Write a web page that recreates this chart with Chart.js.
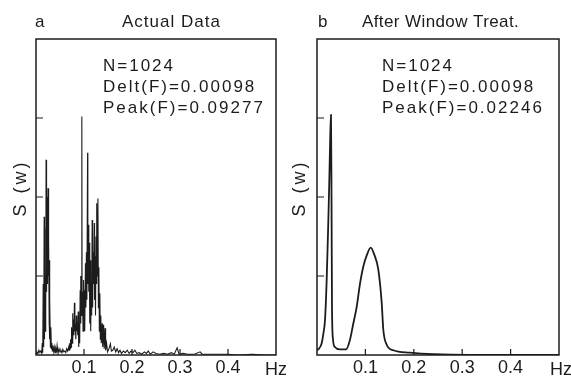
<!DOCTYPE html>
<html>
<head>
<meta charset="utf-8">
<script src="https://cdn.jsdelivr.net/npm/chart.js@4/dist/chart.umd.min.js"></script>
<style>
  html, body { margin: 0; padding: 0; background: #fff; }
  #wrap { position: relative; width: 571px; height: 379px; overflow: hidden; }
  .panel { position: absolute; top: 0; height: 379px; }
  #pa { left: 0; width: 286px; }
  #pb { left: 286px; width: 285px; }
</style>
</head>
<body>
<div id="wrap">
  <div class="panel" id="pa"><canvas id="chartA"></canvas></div>
  <div class="panel" id="pb"><canvas id="chartB"></canvas></div>
</div>
<script>
// [frequency Hz, S(w)]
const spectrumA = [
  [0.000,0.02],[0.002,0.04],[0.004,0.02],[0.006,0.06],[0.008,0.03],[0.010,0.05],[0.012,0.02],[0.013,0.15],
  [0.014,0.03],[0.015,0.9],[0.016,0.1],[0.017,1.75],[0.0175,0.2],[0.018,1.1],[0.019,0.3],[0.020,1.6],
  [0.0205,0.5],[0.021,2.47],[0.0215,0.8],[0.022,1.9],[0.0225,1.1],[0.023,2.0],[0.0235,1.2],[0.024,1.9],
  [0.0245,0.9],[0.025,2.11],[0.0255,1.2],[0.026,1.8],[0.0265,1.0],[0.027,1.5],[0.0275,0.4],[0.028,1.2],
  [0.0285,0.2],[0.029,0.7],[0.030,0.1],[0.031,0.35],[0.032,0.08],[0.033,0.15],[0.034,0.05],[0.035,0.12],
  [0.037,0.04],[0.038,0.1],[0.040,0.03],[0.041,0.09],[0.043,0.05],[0.044,0.12],[0.046,0.02],[0.048,0.08],
  [0.050,0.04],[0.052,0.06],[0.054,0.03],[0.056,0.07],[0.058,0.04],[0.060,0.05],[0.062,0.03],[0.064,0.08],
  [0.066,0.05],[0.068,0.1],[0.069,0.06],[0.070,0.15],[0.071,0.08],[0.072,0.2],[0.073,0.1],[0.074,0.35],
  [0.075,0.15],[0.076,0.53],[0.077,0.2],[0.078,0.45],[0.079,0.25],[0.080,0.66],[0.081,0.3],[0.082,0.4],
  [0.083,0.2],[0.084,0.5],[0.085,0.3],[0.086,0.42],[0.087,0.25],[0.088,0.55],[0.089,0.1],[0.090,0.3],
  [0.091,0.15],[0.092,0.82],[0.093,0.4],[0.0935,1.0],[0.094,0.5],[0.0955,3.02],[0.096,0.6],[0.097,0.8],
  [0.098,0.3],[0.099,0.95],[0.100,0.4],[0.101,0.82],[0.102,0.3],[0.103,1.16],[0.104,0.6],[0.105,1.3],
  [0.106,0.7],[0.1075,2.56],[0.108,0.9],[0.109,1.65],[0.110,0.8],[0.111,1.42],[0.112,0.4],[0.113,1.2],
  [0.114,0.3],[0.115,0.91],[0.116,0.5],[0.117,1.71],[0.118,0.6],[0.119,1.3],[0.120,0.9],[0.1215,1.67],
  [0.122,0.7],[0.123,1.25],[0.124,0.5],[0.125,1.5],[0.126,0.9],[0.127,1.92],[0.128,1.0],[0.129,1.98],
  [0.130,0.6],[0.131,1.11],[0.132,0.3],[0.133,0.78],[0.134,0.2],[0.135,0.5],[0.136,0.15],[0.138,0.4],
  [0.139,0.1],[0.141,0.38],[0.142,0.08],[0.144,0.34],[0.145,0.06],[0.147,0.15],[0.149,0.04],[0.152,0.08],
  [0.155,0.14],[0.157,0.05],[0.160,0.06],[0.163,0.1],[0.166,0.04],[0.169,0.08],[0.172,0.03],[0.175,0.06],
  [0.178,0.02],[0.182,0.05],[0.186,0.03],[0.190,0.06],[0.194,0.02],[0.198,0.05],[0.202,0.03],[0.206,0.06],
  [0.210,0.02],[0.215,0.03],[0.220,0.01],[0.226,0.04],[0.230,0.02],[0.234,0.05],[0.238,0.01],[0.244,0.04],
  [0.250,0.02],[0.258,0.01],[0.266,0.02],[0.274,0.01],[0.282,0.03],[0.288,0.01],[0.294,0.09],[0.298,0.01],
  [0.306,0.02],[0.316,0.01],[0.330,0.01],[0.342,0.04],[0.346,0.01],[0.360,0.01],[0.380,0.01],[0.400,0.01],
  [0.420,0.0],[0.450,0.01],[0.480,0.0],[0.500,0.0]
];
const spectrumB = [
  [0.000,0.06],[0.004,0.08],[0.0097,0.15],[0.0134,0.28],[0.0165,0.44],[0.020,0.95],[0.0233,1.67],
  [0.0254,2.2],[0.0275,2.8],[0.0289,3.04],[0.030,2.0],[0.031,0.6],[0.033,0.2],[0.037,0.1],
  [0.0475,0.07],[0.060,0.07],[0.068,0.19],[0.0744,0.38],[0.082,0.61],[0.0888,0.9],[0.0957,1.12],
  [0.1033,1.27],[0.111,1.36],[0.1178,1.28],[0.1267,1.08],[0.1337,0.66],[0.137,0.32],[0.144,0.13],
  [0.1576,0.06],[0.192,0.03],[0.240,0.01],[0.316,0.0],[0.500,0.0]
];
const xTicks = [0.1, 0.2, 0.3, 0.4];
const yTicks = [1, 2, 3];
const notesA = ["N=1024", "Delt(F)=0.00098", "Peak(F)=0.09277"];
const notesB = ["N=1024", "Delt(F)=0.00098", "Peak(F)=0.02246"];

const INK = "#1c1c1c";
const FONT = '"Liberation Sans", Arial, sans-serif';

const panelDecor = {
  id: "panelDecor",
  afterDraw(chart, args, o) {
    const { ctx, chartArea: a, scales: { x, y } } = chart;
    ctx.save();
    ctx.strokeStyle = INK;
    ctx.lineWidth = 1.5;
    ctx.strokeRect(a.left, a.top, a.right - a.left, a.bottom - a.top);
    ctx.lineWidth = 1.2;
    ctx.beginPath();
    xTicks.forEach(v => {
      const px = x.getPixelForValue(v);
      ctx.moveTo(px, a.bottom); ctx.lineTo(px, a.bottom - 6);
    });
    yTicks.forEach(v => {
      const py = y.getPixelForValue(v);
      ctx.moveTo(a.left, py); ctx.lineTo(a.left + 7, py);
    });
    ctx.stroke();

    ctx.fillStyle = INK;
    ctx.textBaseline = "alphabetic";
    ctx.font = "17px " + FONT;
    ctx.letterSpacing = "0px";
    ctx.fillText(o.tag, o.tagX, 27);
    ctx.letterSpacing = o.titleSpacing;
    ctx.fillText(o.title, o.titleX, 27);
    ctx.letterSpacing = "2px";
    o.notes.forEach((t, i) => ctx.fillText(t, o.noteX, 71 + i * 21));

    ctx.font = "18px " + FONT;
    ctx.letterSpacing = "0px";
    ctx.fillText("Hz", o.hzX, 375);

    ctx.translate(o.ylabX, 188);
    ctx.rotate(-Math.PI / 2);
    ctx.textAlign = "center";
    ctx.textBaseline = "middle";
    ctx.letterSpacing = "3px";
    ctx.fillText("S (w)", 0, 0);
    ctx.restore();
  }
};

function makePanel(id, points, opts) {
  return new Chart(document.getElementById(id), {
    type: "line",
    data: {
      datasets: [{
        data: points.map(([f, s]) => ({ x: f, y: s })),
        borderColor: INK, borderWidth: opts.lineWidth, pointRadius: 0,
        cubicInterpolationMode: opts.smooth ? "monotone" : "default", tension: 0, fill: false,
      }],
    },
    options: {
      responsive: true, maintainAspectRatio: false, animation: false, devicePixelRatio: 1,
      layout: { padding: opts.padding },
      plugins: { legend: { display: false }, tooltip: { enabled: false }, panelDecor: opts.decor },
      scales: {
        x: {
          type: "linear", min: 0, max: 0.5,
          afterFit(s) { s.height = 24; },
          grid: { display: false, drawTicks: false }, border: { display: false },
          ticks: {
            stepSize: 0.1, padding: 2, color: INK, maxRotation: 0, autoSkip: false,
            font: { family: FONT, size: 18 },
            callback: v => xTicks.some(t => Math.abs(t - v) < 1e-6) ? v.toFixed(1) : "",
          },
        },
        y: {
          min: 0, max: 4,
          afterFit(s) { s.width = 0; },
          ticks: { display: false }, grid: { display: false }, border: { display: false },
        },
      },
    },
    plugins: [panelDecor],
  });
}

makePanel("chartA", spectrumA, {
  lineWidth: 1.1, smooth: false,
  padding: { left: 36, top: 39, right: 10, bottom: 0 },
  decor: { tag: "a", tagX: 35, title: "Actual Data", titleX: 122, titleSpacing: "1px",
           notes: notesA, noteX: 103, hzX: 265, ylabX: 21 },
});
makePanel("chartB", spectrumB, {
  lineWidth: 1.8, smooth: true,
  padding: { left: 31, top: 39, right: 12, bottom: 0 },
  decor: { tag: "b", tagX: 32, title: "After Window Treat.", titleX: 76, titleSpacing: "0.4px",
           notes: notesB, noteX: 96, hzX: 264, ylabX: 14 },
});
</script>
</body>
</html>
